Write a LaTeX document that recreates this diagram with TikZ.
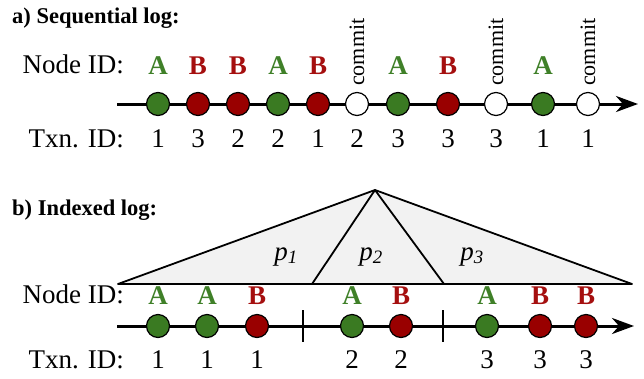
\documentclass[tikz,border=0pt]{standalone}
\usepackage{fontspec}
\setmainfont{Liberation Serif}
\usetikzlibrary{arrows.meta}

\definecolor{entrygreen}{HTML}{3A7A22}
\definecolor{entryred}{HTML}{990000}
\definecolor{idgreen}{HTML}{3F8028}
\definecolor{idred}{HTML}{A50F0F}

\begin{document}
\begin{tikzpicture}[x=1pt,y=-1pt,
  entry/.style={circle,draw=black,line width=1.2pt,minimum size=23pt,inner sep=0pt},
  greenentry/.style={entry,fill=entrygreen},
  redentry/.style={entry,fill=entryred},
  commitentry/.style={entry,fill=white},
  rowlabel/.style={font=\fontsize{27}{30}\selectfont,inner sep=0pt,anchor=base east},
  txnid/.style={font=\fontsize{27}{30}\selectfont,inner sep=0pt,anchor=base},
  ida/.style={font=\bfseries\fontsize{27}{30}\selectfont,text=idgreen,inner sep=0pt,anchor=base},
  idb/.style={font=\bfseries\fontsize{27}{30}\selectfont,text=idred,inner sep=0pt,anchor=base},
  commitlabel/.style={font=\fontsize{22}{24}\selectfont,rotate=90,anchor=west,inner sep=0pt},
  title/.style={font=\bfseries\fontsize{22.5}{26}\selectfont,inner sep=0pt,anchor=base west},
  plabel/.style={font=\itshape\fontsize{27}{30}\selectfont,inner sep=0pt,anchor=base},
  timeline/.style={line width=3pt,-{Stealth[length=22pt,width=16pt,inset=7pt]}}]

\useasboundingbox (0,0) rectangle (644,378);

% a) sequential log
\node[title] (titlea) at (12,23) {a) Sequential log:};
\node[rowlabel] (nodeida) at (124,73) {Node ID:};
\node[rowlabel] (txnida) at (124,147) {Txn. ID:};

\coordinate (seqstart) at (117,104);
\coordinate (seqend) at (638,104);
\draw[timeline] (seqstart) -- (seqend);

\node[greenentry] (s1) at (158,104) {};
\node[redentry] (s2) at (198,104) {};
\node[redentry] (s3) at (238,104) {};
\node[greenentry] (s4) at (278,104) {};
\node[redentry] (s5) at (318,104) {};
\node[commitentry] (s6) at (357,104) {};
\node[greenentry] (s7) at (398,104) {};
\node[redentry] (s8) at (448,104) {};
\node[commitentry] (s9) at (496,104) {};
\node[greenentry] (s10) at (543,104) {};
\node[commitentry] (s11) at (588,104) {};

\node[ida] (sn1) at (158,74) {A};
\node[idb] (sn2) at (198,74) {B};
\node[idb] (sn3) at (238,74) {B};
\node[ida] (sn4) at (278,74) {A};
\node[idb] (sn5) at (318,74) {B};
\node[commitlabel] (sc6) at (357,86) {commit};
\node[ida] (sn7) at (398,74) {A};
\node[idb] (sn8) at (448,74) {B};
\node[commitlabel] (sc9) at (496,86) {commit};
\node[ida] (sn10) at (543,74) {A};
\node[commitlabel] (sc11) at (588,86) {commit};

\node[txnid] (st1) at (158,147) {1};
\node[txnid] (st2) at (198,147) {3};
\node[txnid] (st3) at (238,147) {2};
\node[txnid] (st4) at (278,147) {2};
\node[txnid] (st5) at (318,147) {1};
\node[txnid] (st6) at (357,147) {2};
\node[txnid] (st7) at (398,147) {3};
\node[txnid] (st8) at (448,147) {3};
\node[txnid] (st9) at (496,147) {3};
\node[txnid] (st10) at (543,147) {1};
\node[txnid] (st11) at (588,147) {1};

% b) indexed log
\node[title] (titleb) at (12,215) {b) Indexed log:};

\coordinate (apex) at (375,190);
\coordinate (baseleft) at (118,284);
\coordinate (baseright) at (632,284);
\coordinate (split1) at (312,284);
\coordinate (split2) at (444,284);
\filldraw[fill=black!5, line width=1.8pt, line join=round] (baseleft) -- (apex) -- (baseright) -- cycle;
\draw[line width=1.8pt] (apex) -- (split1);
\draw[line width=1.8pt] (apex) -- (split2);

\node[plabel] (p1) at (286,260) {p\textsubscript{1}};
\node[plabel] (p2) at (371,260) {p\textsubscript{2}};
\node[plabel] (p3) at (472,260) {p\textsubscript{3}};

\node[rowlabel] (nodeidb) at (124,303) {Node ID:};
\node[rowlabel] (txnidb) at (124,368) {Txn. ID:};

\coordinate (idxstart) at (117,326);
\coordinate (idxend) at (634,326);
\draw[timeline] (idxstart) -- (idxend);

\coordinate (tick1top) at (303,310);
\coordinate (tick1bot) at (303,342);
\coordinate (tick2top) at (443,310);
\coordinate (tick2bot) at (443,342);
\draw[line width=1.8pt] (tick1top) -- (tick1bot);
\draw[line width=1.8pt] (tick2top) -- (tick2bot);

\node[greenentry] (i1) at (158,326) {};
\node[greenentry] (i2) at (207,326) {};
\node[redentry] (i3) at (257,326) {};
\node[greenentry] (i4) at (352,326) {};
\node[redentry] (i5) at (401,326) {};
\node[greenentry] (i6) at (487,326) {};
\node[redentry] (i7) at (540,326) {};
\node[redentry] (i8) at (586,326) {};

\node[ida] (in1) at (158,304) {A};
\node[ida] (in2) at (207,304) {A};
\node[idb] (in3) at (257,304) {B};
\node[ida] (in4) at (352,304) {A};
\node[idb] (in5) at (401,304) {B};
\node[ida] (in6) at (487,304) {A};
\node[idb] (in7) at (540,304) {B};
\node[idb] (in8) at (586,304) {B};

\node[txnid] (it1) at (158,368) {1};
\node[txnid] (it2) at (207,368) {1};
\node[txnid] (it3) at (257,368) {1};
\node[txnid] (it4) at (352,368) {2};
\node[txnid] (it5) at (401,368) {2};
\node[txnid] (it6) at (487,368) {3};
\node[txnid] (it7) at (540,368) {3};
\node[txnid] (it8) at (586,368) {3};

\end{tikzpicture}
\end{document}
